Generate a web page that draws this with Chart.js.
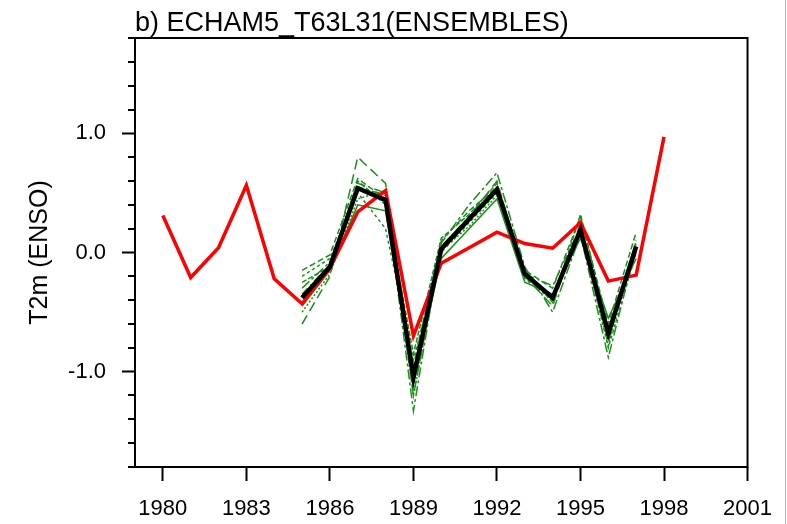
<!DOCTYPE html>
<html>
<head>
<meta charset="utf-8">
<script src="https://cdn.jsdelivr.net/npm/chart.js@4.4.1/dist/chart.umd.min.js"></script>
<style>
  body { margin: 0; background: #fff; }
  canvas { display: block; }
</style>
</head>
<body>
<canvas id="myChart" width="787" height="524"></canvas>
<script>
// observed T2m ENSO index (red)
const obsYears = [1980, 1981, 1982, 1983, 1984, 1985, 1986, 1987, 1988, 1989,
                  1990, 1991, 1992, 1993, 1994, 1995, 1996, 1997, 1998];
const obsValues = [0.31, -0.21, 0.04, 0.565, -0.22, -0.43, -0.13, 0.34, 0.52, -0.70,
                   -0.09, 0.04, 0.17, 0.075, 0.036, 0.25, -0.24, -0.19, 0.97];

// ensemble mean (black) and members (green dashed)
const ensYears = [1985, 1986, 1987, 1988, 1989, 1990, 1991, 1992, 1993, 1994, 1995, 1996, 1997];
const ensMean = [-0.38, -0.12, 0.54, 0.44, -1.05, 0.03, 0.28, 0.53, -0.18, -0.38, 0.19, -0.68, 0.05];
const member1 = [-0.60, -0.20, 0.80, 0.58, -1.20, 0.05, 0.30, 0.60, -0.20, -0.45, 0.25, -0.75, 0.10];
const member2 = [-0.15, -0.02, 0.62, 0.45, -0.95, 0.10, 0.35, 0.55, -0.15, -0.30, 0.30, -0.60, 0.17];
const member3 = [-0.20, -0.05, 0.50, 0.20, -0.90, 0.00, 0.25, 0.50, -0.22, -0.40, 0.20, -0.80, 0.00];
const member4 = [-0.30, -0.08, 0.55, 0.48, -1.33, 0.08, 0.40, 0.67, -0.12, -0.50, 0.15, -0.88, 0.05];
const member5 = [-0.45, -0.15, 0.40, 0.35, -1.10, -0.05, 0.20, 0.45, -0.25, -0.35, 0.12, -0.55, -0.05];
const member6 = [-0.35, -0.10, 0.58, 0.50, -1.00, 0.05, 0.30, 0.50, -0.18, -0.28, 0.22, -0.70, 0.10];
const member7 = [-0.25, -0.12, 0.60, 0.40, -0.85, 0.12, 0.32, 0.58, -0.15, -0.42, 0.32, -0.65, 0.00];
const member8 = [-0.50, -0.18, 0.45, 0.52, -1.20, 0.02, 0.22, 0.48, -0.20, -0.38, 0.18, -0.78, 0.08];
const members = [member1, member2, member3, member4, member5, member6, member7, member8];
const memberDashes = [[10, 5], [6, 3], [3, 3], [10, 3, 3, 3], [], [8, 4, 2, 4], [5, 2], [2, 2]];

// axis ticks
const xTicks = [1980, 1983, 1986, 1989, 1992, 1995, 1998, 2001];
const yTicks = [-1.0, 0.0, 1.0];
const yMinorTicks = [-1.8, -1.6, -1.4, -1.2, -0.8, -0.6, -0.4, -0.2, 0.2, 0.4, 0.6, 0.8, 1.2, 1.4, 1.6, 1.8];

const titleText = 'b) ECHAM5_T63L31(ENSEMBLES)';
const fontFamily = '"Liberation Sans", Arial, Helvetica, sans-serif';

function toPoints(xs, ys) {
    return xs.map((x, i) => ({ x: x, y: ys[i] }));
}

const datasets = [
    {
        label: 'ensemble mean',
        data: toPoints(ensYears, ensMean),
        borderColor: '#000',
        borderWidth: 4.5
    },
    {
        label: 'obs',
        data: toPoints(obsYears, obsValues),
        borderColor: '#ff0000',
        borderWidth: 3.5
    }
];
members.forEach((m, i) => {
    datasets.push({
        label: 'member ' + (i + 1),
        data: toPoints(ensYears, m),
        borderColor: 'rgb(25,145,25)',
        borderWidth: 1.5,
        borderDash: memberDashes[i]
    });
});

// frame, minor ticks, title
const framePlugin = {
    id: 'frame',
    afterDraw(chart) {
        const ctx = chart.ctx;
        const a = chart.chartArea;
        const y = chart.scales.y;
        ctx.save();
        ctx.strokeStyle = '#000';
        ctx.lineWidth = 2;
        ctx.strokeRect(a.left, a.top, a.right - a.left, a.bottom - a.top);
        ctx.beginPath();
        yMinorTicks.forEach(v => {
            const py = Math.round(y.getPixelForValue(v));
            ctx.moveTo(a.left - 7, py);
            ctx.lineTo(a.left, py);
        });
        ctx.stroke();
        ctx.fillStyle = '#000';
        ctx.font = '27px ' + fontFamily;
        ctx.textAlign = 'left';
        ctx.textBaseline = 'alphabetic';
        ctx.fillText(titleText, a.left, 31);
        // thin green edge on the right of the picture
        ctx.strokeStyle = 'rgb(160,205,140)';
        ctx.lineWidth = 1;
        ctx.beginPath();
        ctx.moveTo(785.5, 0);
        ctx.lineTo(785.5, 524);
        ctx.stroke();
        ctx.restore();
    }
};

var ctx = document.getElementById('myChart').getContext('2d');

var myChart = new Chart(ctx, {
    type: 'line',
    data: { datasets: datasets },
    options: {
        responsive: false,
        animation: false,
        events: [],
        elements: {
            point: { radius: 0 },
            line: { tension: 0, fill: false }
        },
        layout: {
            padding: { left: 0, right: 33, top: 38, bottom: 0 }
        },
        plugins: {
            legend: { display: false },
            tooltip: { enabled: false }
        },
        scales: {
            x: {
                type: 'linear',
                min: 1979,
                max: 2001,
                afterBuildTicks: (scale) => { scale.ticks = xTicks.map(v => ({ value: v })); },
                afterFit: (scale) => { scale.height = 57; },
                border: { display: false },
                grid: {
                    drawOnChartArea: false,
                    drawTicks: true,
                    tickLength: 14,
                    tickWidth: 2,
                    tickColor: '#000'
                },
                ticks: {
                    color: '#000',
                    padding: 15,
                    maxRotation: 0,
                    font: { family: fontFamily, size: 22 },
                    callback: (v) => String(v)
                }
            },
            y: {
                min: -1.8,
                max: 1.8,
                afterBuildTicks: (scale) => { scale.ticks = yTicks.map(v => ({ value: v })); },
                afterFit: (scale) => { scale.width = 135; },
                border: { display: false },
                grid: {
                    drawOnChartArea: false,
                    drawTicks: true,
                    tickLength: 13,
                    tickWidth: 2,
                    tickColor: '#000'
                },
                ticks: {
                    color: '#000',
                    padding: 16,
                    font: { family: fontFamily, size: 22 },
                    callback: (v) => v.toFixed(1)
                },
                title: {
                    display: true,
                    text: 'T2m (ENSO)',
                    color: '#000',
                    font: { family: fontFamily, size: 25 },
                    padding: { top: 25, bottom: 0 }
                }
            }
        }
    },
    plugins: [framePlugin]
});
</script>
</body>
</html>
